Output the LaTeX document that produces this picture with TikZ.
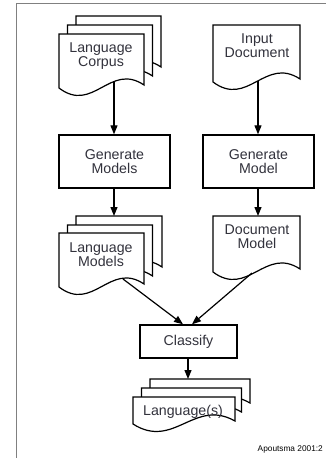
\documentclass[tikz,border=0pt]{standalone}
\usepackage{fontspec}
\setmainfont{Liberation Sans}
\usetikzlibrary{arrows.meta}
\definecolor{txtgray}{RGB}{50,50,60}
\tikzset{
  doc/.style={draw=black, fill=white, line width=1.2pt, line join=miter},
  procbox/.style={draw=black, fill=white, line width=1.4pt, align=center,
    font=\fontsize{14.2}{14}\selectfont, text=txtgray, inner sep=0pt},
  lbl/.style={align=center, font=\fontsize{14.2}{14}\selectfont, text=txtgray, inner sep=0pt},
  flow/.style={draw=black, line width=1.2pt, -{Triangle[length=9pt,width=7pt]}},
}
\newcommand{\mydoc}[4]{% x0, top, w, h
  \path[doc] (#1,#2) -- ({#1+#3},#2) -- ({#1+#3},{#2+#4-3})
    .. controls ({#1+0.6*#3},{#2+#4-26}) and ({#1+0.4*#3},{#2+#4+26}) .. (#1,{#2+#4}) -- cycle;}
\begin{document}
\begin{tikzpicture}[x=1pt,y=-1pt]
\useasboundingbox (0,0) rectangle (325,458);
\fill[white] (0,0) rectangle (325,458);
\draw[gray, line width=1pt] (16,470) -- (16,3) -- (340,3);

% Language Corpus stack
\mydoc{76}{16}{85}{54}
\mydoc{67.5}{25}{85}{54}
\mydoc{59}{34}{85}{54}
\node[lbl] (corpus) at (101,56) {Language\\Corpus};
\coordinate (corpusout) at (114,81.5);

% Input Document
\mydoc{213}{25}{87}{57}
\node[lbl] (indoc) at (257,46) {Input\\Document};
\coordinate (indocout) at (258,80.8);

% Process boxes
\node[procbox, minimum width=111pt, minimum height=53pt] (genmodels) at (114.5,161.5) {Generate\\Models};
\node[procbox, minimum width=111pt, minimum height=53pt] (genmodel) at (258.5,161.5) {Generate\\Model};

% Language Models stack
\mydoc{76}{216}{86}{54}
\mydoc{67.5}{225}{85}{54}
\mydoc{59}{233}{85}{54}
\node[lbl] (langmodels) at (101,255) {Language\\Models};
\coordinate (lmtop) at (114,216);
\coordinate (lmout) at (123,279);

% Document Model
\mydoc{213}{216}{87}{56}
\node[lbl] (docmodel) at (257,237) {Document\\Model};
\coordinate (dmtop) at (258,216);
\coordinate (dmout) at (252,273);

% Classify
\node[procbox, minimum width=97pt, minimum height=33pt] (classify) at (188.5,341.5) {Classify};

% Language(s) stack
\mydoc{150}{379}{100}{27}
\mydoc{141.5}{388}{100}{27}
\mydoc{133}{397}{102}{27}
\node[lbl] (langs) at (183,412) {Language(s)};
\coordinate (langstop) at (188,379);

% Caption
\node[font=\fontsize{8.3}{10}\selectfont, anchor=east, inner sep=0pt] (cite) at (323,449) {Apoutsma 2001:2};

% Connectors
\draw[flow] (corpusout) -- (corpusout |- genmodels.north);
\draw[flow] (indocout) -- (indocout |- genmodel.north);
\draw[flow] (genmodels.south -| lmtop) -- (lmtop);
\draw[flow] (genmodel.south -| dmtop) -- (dmtop);
\draw[flow] (lmout) -- ([xshift=-5.5pt]classify.north);
\draw[flow] (dmout) -- ([xshift=3.5pt]classify.north);
\draw[flow] (classify.south -| langstop) -- (langstop);
\end{tikzpicture}
\end{document}
